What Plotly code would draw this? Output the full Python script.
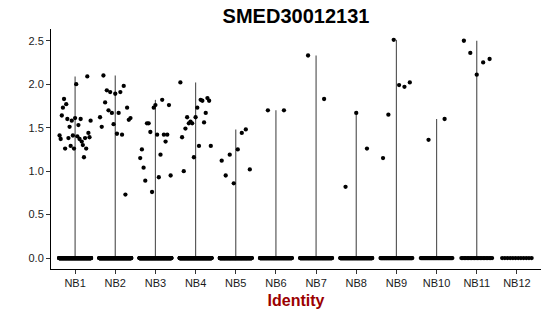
import plotly.graph_objects as go

title = "SMED30012131"
categories = ["NB1", "NB2", "NB3", "NB4", "NB5", "NB6", "NB7", "NB8", "NB9", "NB10", "NB11", "NB12"]

# non-zero expression values per identity, listed in left-to-right order as seen in the picture
nonzero = {
    "NB1": [1.41, 1.37, 1.64, 1.73, 1.83, 1.26, 1.77, 1.60, 1.38, 1.51, 1.29, 1.58, 1.41, 1.26, 1.61,
            2.00, 1.40, 1.53, 1.37, 1.60, 1.34, 1.30, 1.16, 1.38, 1.26, 2.09, 1.44, 1.39, 1.58],
    "NB2": [1.62, 1.51, 2.10, 1.79, 1.93, 1.70, 1.91, 1.67, 1.54, 1.89, 1.43, 1.67, 1.91, 1.42, 1.98,
            0.73, 1.73, 1.59, 1.61],
    "NB3": [1.15, 1.25, 1.04, 0.89, 1.55, 1.55, 1.45, 0.76, 1.73, 1.76, 1.42, 0.93, 1.19, 1.82, 1.42,
            1.34, 1.42, 1.76, 0.95],
    "NB4": [2.02, 1.39, 1.00, 1.49, 1.62, 1.55, 1.57, 1.55, 1.16, 1.62, 1.73, 1.29, 1.82, 1.81, 1.56,
            1.67, 1.84, 1.81, 1.29],
    "NB5": [1.12, 0.95, 1.19, 0.86, 1.25, 1.44, 1.48, 1.02],
    "NB6": [1.70, 1.70],
    "NB7": [2.33, 1.83],
    "NB8": [0.82, 1.67, 1.26],
    "NB9": [1.15, 1.65, 2.51, 1.99, 1.97, 2.02],
    "NB10": [1.36, 1.60],
    "NB11": [2.50, 2.36, 2.11, 2.25, 2.29],
    "NB12": [],
}
# number of cells with zero expression per identity (estimated)
zero_counts = [300, 300, 300, 300, 260, 160, 160, 160, 80, 50, 22, 12]

y_ticks = [0.0, 0.5, 1.0, 1.5, 2.0, 2.5]

HALF = 0.4  # jitter half-width


def spread(n):
    return [-HALF + 2 * HALF * (k + 0.5) / n for k in range(n)] if n else []


fig = go.Figure()

# thin violins (almost all mass at zero) -> vertical line up to max
vx, vy = [], []
for i, c in enumerate(categories):
    vals = nonzero[c]
    top = max(vals) if vals else 0
    if top > 0:
        vx += [i, i, None]
        vy += [0, top, None]
fig.add_trace(go.Scatter(x=vx, y=vy, mode="lines", line=dict(color="#5a5a5a", width=1.2),
                         hoverinfo="skip", showlegend=False))

# points
px, py = [], []
for i, c in enumerate(categories):
    n0 = zero_counts[i]
    for off in spread(n0):
        px.append(i + off)
        py.append(0.0)
    vals = nonzero[c]
    for off, v in zip(spread(len(vals)), vals):
        px.append(i + off)
        py.append(v)
fig.add_trace(go.Scatter(x=px, y=py, mode="markers",
                         marker=dict(color="black", size=4.3, line=dict(width=0)),
                         showlegend=False))

fig.update_layout(
    width=550, height=316,
    margin=dict(l=51, r=9, t=29, b=47),
    paper_bgcolor="white", plot_bgcolor="white",
    font=dict(family="Liberation Sans, Arial, sans-serif", color="black"),
    title=dict(text="<b>" + title + "</b>", x=(51 + 275.5) / 550 * 0 + 0.5 + (51 - 9) / 2 / 550,
               xanchor="center", y=1 - 16 / 316, yanchor="middle",
               font=dict(size=20, color="black")),
    showlegend=False,
)
fig.update_xaxes(
    range=[-0.6, len(categories) - 0.4],
    tickvals=list(range(len(categories))), ticktext=categories,
    showgrid=False, zeroline=False,
    showline=True, linecolor="black", linewidth=1,
    ticks="outside", ticklen=4, tickcolor="#333", tickwidth=1,
    tickfont=dict(size=11, color="#1a1a1a"),
    title=dict(text="<b>Identity</b>", font=dict(size=16, color="#9b0000"), standoff=6),
)
fig.update_yaxes(
    range=[-0.1255, 2.635],
    tickvals=y_ticks, ticktext=[f"{t:.1f}" for t in y_ticks],
    showgrid=False, zeroline=False,
    showline=True, linecolor="black", linewidth=1,
    ticks="outside", ticklen=4, tickcolor="#333", tickwidth=1,
    tickfont=dict(size=11, color="#1a1a1a"),
)

fig.write_html("out.html")
